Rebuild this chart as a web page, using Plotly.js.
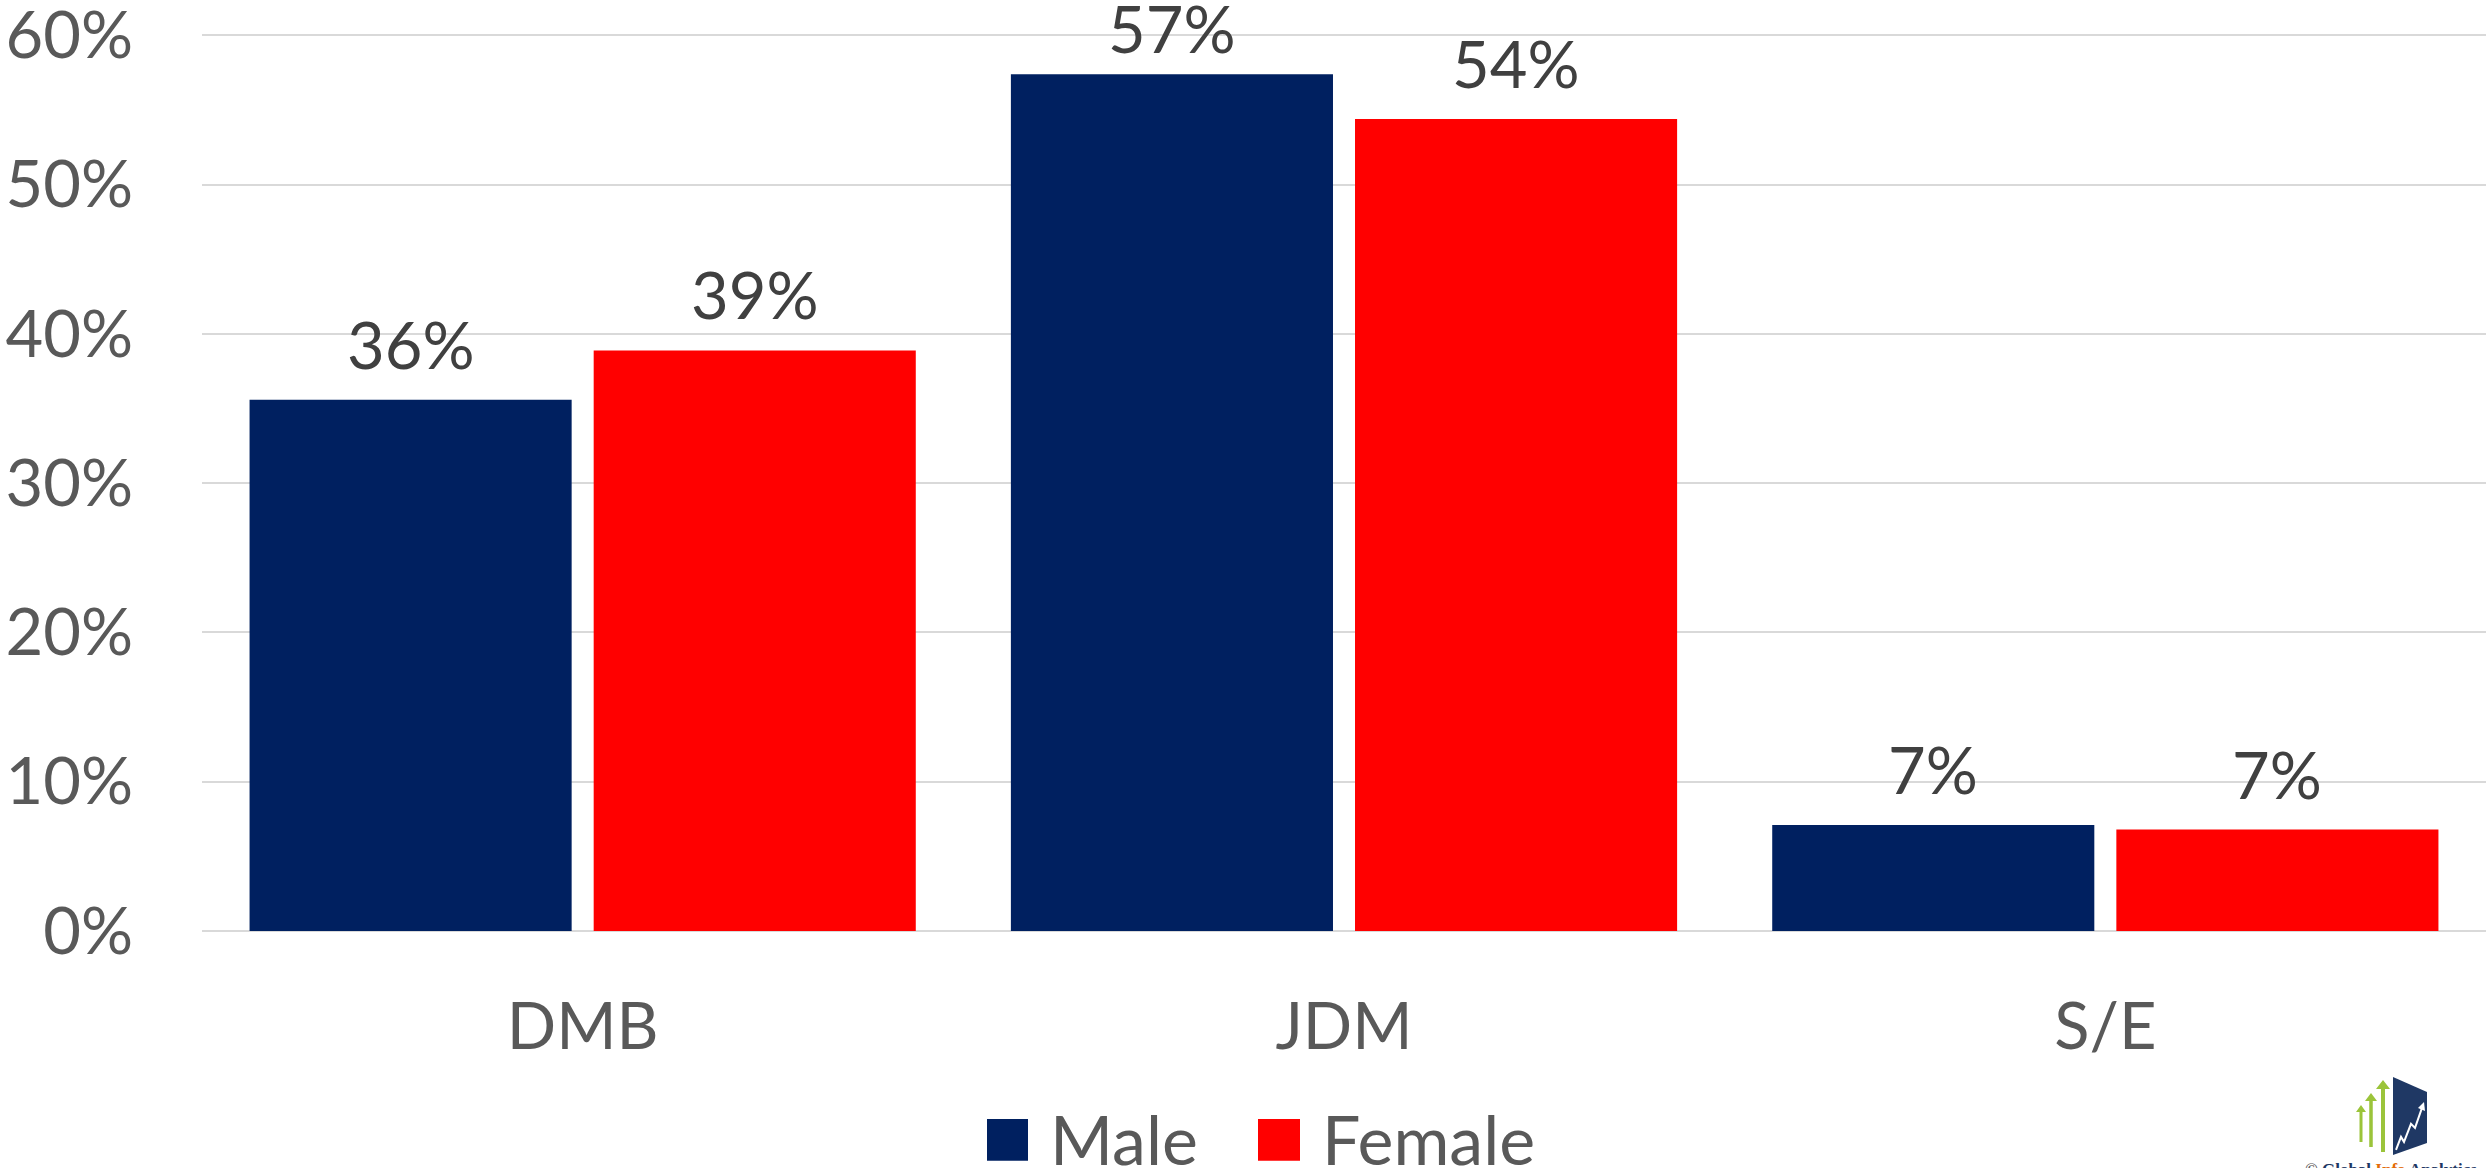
<!DOCTYPE html>
<html>
<head>
<meta charset="utf-8">
<script src="https://cdn.plot.ly/plotly-3.0.1.min.js"></script>
<style>html,body{margin:0;padding:0;background:#fff;}#chart{width:2486px;height:1168px;}</style>
</head>
<body>
<div id="chart"></div>
<script>
// ---- data ----
const categories = ['DMB', 'JDM', 'S/E'];
const seriesNames = ['Male', 'Female'];
const maleValues = [0.356, 0.574, 0.071];
const femaleValues = [0.389, 0.544, 0.068];
const seriesColors = ['#002060', '#FF0000'];
const yTickVals = [0, 0.1, 0.2, 0.3, 0.4, 0.5, 0.6];
const yTickText = ['0%', '10%', '20%', '30%', '40%', '50%', '60%'];

// ---- geometry helpers (pixel -> paper) ----
const W = 2486, Hh = 1168;
const M = {l: 202, r: 0, t: 27.5, b: 237};
const PW = W - M.l - M.r, PH = Hh - M.t - M.b;
const YMAX = 0.605;
const px = x => (x - M.l) / PW;
const py = y => (Hh - M.b - y) / PH;
const BARGAP = 0.096, BARGROUPGAP = 0.064;

const FONT = 'Lato, "Open Sans", sans-serif';
const allSeries = [maleValues, femaleValues];

const traces = allSeries.map((vals, i) => ({
  type: 'bar',
  name: seriesNames[i],
  x: categories,
  y: vals,
  marker: {color: seriesColors[i]},
  hoverinfo: 'x+y+name',
  showlegend: false
}));

const shapes = [];
const annotations = [];

// data labels above each bar (anchored at the bar value on the data scales);
// like the original, a label is nudged down so that it stays inside the chart
const slotPx = (PW / categories.length) * (1 - BARGAP) / allSeries.length;
allSeries.forEach((vals, i) => {
  vals.forEach((v, j) => {
    const barTopPx = M.t + PH * (1 - v / YMAX);
    const shift = Math.max(0, Math.min(15, barTopPx - 69));
    annotations.push({xref: 'x', yref: 'y', x: categories[j], y: v,
      xshift: (i - (allSeries.length - 1) / 2) * slotPx, yshift: shift,
      xanchor: 'center', yanchor: 'bottom', showarrow: false,
      text: Math.round(v * 100) + '%',
      font: {family: FONT, size: 65, color: '#404040'}});
  });
});

// custom legend
const legendItems = [{sq0: 987, sq1: 1028, tx: 1048}, {sq0: 1258, sq1: 1300, tx: 1320}];
legendItems.forEach((it, i) => {
  shapes.push({type: 'rect', xref: 'paper', yref: 'paper',
    x0: px(it.sq0), x1: px(it.sq1), y0: py(1161), y1: py(1119),
    fillcolor: seriesColors[i], line: {width: 0}});
  annotations.push({xref: 'paper', yref: 'paper', x: px(it.tx), y: py(1139),
    xanchor: 'left', yanchor: 'middle', showarrow: false, text: seriesNames[i],
    font: {family: FONT, size: 68, color: '#595959'}});
});

// logo (green arrows + navy panel)
function pathFrom(pts) {
  return 'M' + pts.map(p => px(p[0]) + ',' + py(p[1])).join('L') + 'Z';
}
const arrows = [[2361, 1105, 1142, 3, 5, 7], [2371, 1093, 1147, 3.5, 6, 8], [2383, 1080, 1152, 4, 7, 9]];
arrows.forEach(a => {
  const [cx, top, bot, sw, hw, hh] = a;
  shapes.push({type: 'path', xref: 'paper', yref: 'paper', fillcolor: '#9bc43a', line: {width: 0},
    path: pathFrom([[cx - sw / 2, bot], [cx - sw / 2, top + hh], [cx - hw, top + hh], [cx, top],
      [cx + hw, top + hh], [cx + sw / 2, top + hh], [cx + sw / 2, bot]])});
});
shapes.push({type: 'path', xref: 'paper', yref: 'paper', fillcolor: '#1f3864', line: {width: 0},
  path: pathFrom([[2393, 1077], [2427, 1092], [2427, 1143], [2393, 1155]])});
shapes.push({type: 'path', xref: 'paper', yref: 'paper', line: {color: '#ffffff', width: 2},
  path: 'M' + [[2396, 1150], [2401, 1137], [2404, 1142], [2411, 1124], [2415, 1128], [2422, 1108]]
    .map(p => px(p[0]) + ',' + py(p[1])).join('L')});
shapes.push({type: 'path', xref: 'paper', yref: 'paper', fillcolor: '#ffffff', line: {width: 0},
  path: pathFrom([[2418, 1108], [2424, 1102], [2425, 1111]])});
annotations.push({xref: 'paper', yref: 'paper', x: px(2391), y: py(1158), xanchor: 'center', yanchor: 'top',
  showarrow: false,
  text: '© <span style="color:#1f3864">Global</span> <span style="color:#e36c09">Info</span> <span style="color:#1f3864">Analytics</span>',
  font: {family: '"Liberation Serif", serif', size: 17, color: '#555555', weight: 'bold'}});

const layout = {
  width: W, height: Hh,
  margin: M,
  paper_bgcolor: '#ffffff', plot_bgcolor: '#ffffff',
  barmode: 'group', bargap: BARGAP, bargroupgap: BARGROUPGAP,
  font: {family: FONT, color: '#595959'},
  xaxis: {
    type: 'category', showgrid: false, showline: false, zeroline: false, ticks: '',
    tickfont: {family: FONT, size: 65, color: '#595959'}, ticklabelstandoff: 52, fixedrange: true
  },
  yaxis: {
    range: [0, YMAX], tickvals: yTickVals, ticktext: yTickText,
    showgrid: true, gridcolor: '#d9d9d9', gridwidth: 2,
    zeroline: true, zerolinecolor: '#d9d9d9', zerolinewidth: 2,
    showline: false, ticks: '', ticklabeloverflow: 'allow',
    tickfont: {family: FONT, size: 65, color: '#595959'}, ticklabelstandoff: 68, fixedrange: true
  },
  shapes: shapes,
  annotations: annotations,
  showlegend: false
};

Plotly.newPlot('chart', traces, layout, {displayModeBar: false, staticPlot: true});
</script>
</body>
</html>
